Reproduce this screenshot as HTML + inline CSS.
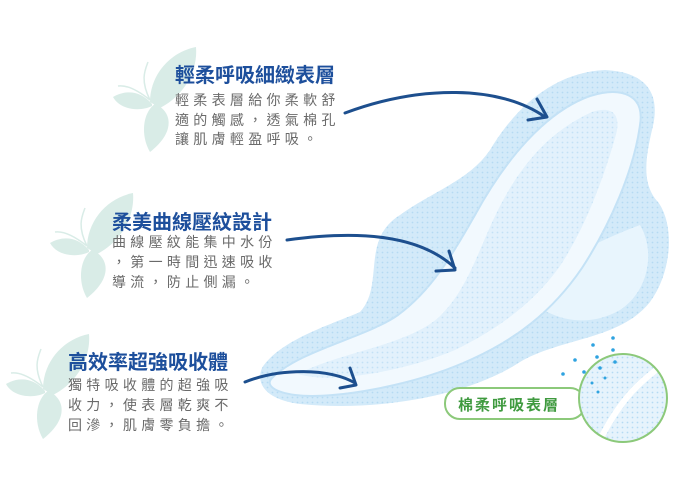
<!DOCTYPE html>
<html><head><meta charset="utf-8"><style>
html,body{margin:0;padding:0;background:#fff;}
svg{display:block}
.t{font-family:"Liberation Sans","Noto Sans CJK TC",sans-serif;font-weight:bold;font-size:20px;fill:#1d4f9c}
.b{font-family:"Liberation Sans","Noto Sans CJK TC",sans-serif;font-size:14px;fill:#6a6a6a;letter-spacing:4.3px}
</style></head><body>
<svg width="700" height="478" viewBox="0 0 700 478" xmlns="http://www.w3.org/2000/svg">
<defs>
<g id="bf" fill="#d9ece7">
<path d="M150,102 C150,75 170,52 196,47 C198,70 185,95 160,108 Z"/>
<path d="M152,104 C140,90 125,90 113,97 C120,110 140,112 152,106 Z"/>
<path d="M155,104 C170,110 178,130 150,152 C140,135 143,112 155,104 Z"/>
<path d="M150,100 C140,80 145,70 148,62" stroke="#d9ece7" stroke-width="1.5" fill="none"/>
<path d="M150,100 C135,88 125,85 118,86" stroke="#d9ece7" stroke-width="1.5" fill="none"/>
</g>
<pattern id="dots" width="5" height="5" patternUnits="userSpaceOnUse"><circle cx="2.5" cy="2.5" r="0.9" fill="#b5daf3"/></pattern>
<clipPath id="cc"><circle cx="623" cy="398" r="44"/></clipPath>
</defs>
<use href="#bf"/>
<use href="#bf" transform="translate(-63,146)"/>
<use href="#bf" transform="translate(-107,287)"/>

<!-- pad -->
<path d="M262,368 C280,340 330,325 360,312 C385,285 360,240 400,215 C430,193 470,180 490,150 C520,100 560,72 605,70 C645,72 662,92 652,130 C645,160 642,185 658,202 C675,225 672,272 650,302 C620,340 560,338 520,362 C470,395 380,412 300,404 C268,400 255,385 262,368 Z" fill="#d3eaf9"/>
<path d="M262,368 C280,340 330,325 360,312 C385,285 360,240 400,215 C430,193 470,180 490,150 C520,100 560,72 605,70 C645,72 662,92 652,130 C645,160 642,185 658,202 C675,225 672,272 650,302 C620,340 560,338 520,362 C470,395 380,412 300,404 C268,400 255,385 262,368 Z" fill="url(#dots)"/>
<path d="M520,290 C560,260 600,240 640,225 C655,250 650,290 620,310 C585,330 545,320 520,290Z" fill="#e8f5fd"/>
<path d="M272,378 C300,350 365,338 398,315 C432,290 452,255 475,215 C505,160 545,112 590,96 C622,86 645,95 640,125 C634,170 610,225 582,268 C552,312 515,340 470,360 C415,385 335,400 295,395 C274,392 265,385 272,378 Z" fill="#f2f9fe" stroke="#c4e2f6" stroke-width="2"/>
<path d="M298,374 C340,352 405,346 438,318 C468,290 478,250 498,210 C522,162 552,130 592,112 C614,105 622,116 615,138 C603,180 585,228 560,266 C533,304 496,330 455,350 C403,372 330,384 298,374Z" fill="#e2f1fc"/>
<path d="M298,374 C340,352 405,346 438,318 C468,290 478,250 498,210 C522,162 552,130 592,112 C614,105 622,116 615,138 C603,180 585,228 560,266 C533,304 496,330 455,350 C403,372 330,384 298,374Z" fill="url(#dots)" opacity="0.7"/>

<!-- arrows -->
<g stroke="#1d4f8e" stroke-width="3" fill="none" stroke-linecap="round" stroke-linejoin="round">
<path d="M345,113 C420,85 500,85 545,117"/>
<path d="M537,99 L547,117 L528,120"/>
<path d="M287,240 C360,230 420,235 455,268"/>
<path d="M449,251 L455,270 L436,271"/>
<path d="M245,382 C280,368 330,368 355,383"/>
<path d="M350,368 L356,385 L340,388"/>
</g>

<!-- texts -->
<text class="t" x="175" y="82">輕柔呼吸細緻表層</text>
<text class="b" x="175" y="105">輕柔表層給你柔軟舒</text>
<text class="b" x="175" y="125">適的觸感，透氣棉孔</text>
<text class="b" x="175" y="144">讓肌膚輕盈呼吸。</text>
<text class="t" x="112" y="229">柔美曲線壓紋設計</text>
<text class="b" x="112" y="247">曲線壓紋能集中水份</text>
<text class="b" x="112" y="267">，第一時間迅速吸收</text>
<text class="b" x="112" y="287">導流，防止側漏。</text>
<text class="t" x="68" y="369">高效率超強吸收體</text>
<text class="b" x="68" y="390">獨特吸收體的超強吸</text>
<text class="b" x="68" y="410">收力，使表層乾爽不</text>
<text class="b" x="68" y="430">回滲，肌膚零負擔。</text>

<!-- label -->
<rect x="445" y="388" width="140" height="31" rx="15" fill="#fff" stroke="#8cc97a" stroke-width="2"/>
<text x="458" y="410" font-family="Liberation Sans,Noto Sans CJK TC,sans-serif" font-size="15" font-weight="bold" fill="#3f9a3f" letter-spacing="2">棉柔呼吸表層</text>
<circle cx="623" cy="398" r="44" fill="#e6f3fc"/>
<g clip-path="url(#cc)"><rect x="575" y="350" width="100" height="100" fill="url(#dots)"/>
<path d="M600,440 C620,400 640,380 670,360" stroke="#fff" stroke-width="6" fill="none"/></g>
<circle cx="623" cy="398" r="44" fill="none" stroke="#8cc97a" stroke-width="2"/>
<g fill="#2fa3e0">
<circle cx="613" cy="338" r="1.8"/><circle cx="593" cy="345" r="1.8"/><circle cx="613" cy="350" r="1.8"/>
<circle cx="575" cy="360" r="1.8"/><circle cx="597" cy="357" r="1.8"/><circle cx="615" cy="362" r="1.8"/>
<circle cx="563" cy="374" r="1.8"/><circle cx="584" cy="372" r="1.8"/><circle cx="600" cy="368" r="1.8"/>
<circle cx="592" cy="383" r="1.5"/><circle cx="605" cy="378" r="1.5"/><circle cx="598" cy="392" r="1.5"/>
</g>
</svg>
</body></html>
